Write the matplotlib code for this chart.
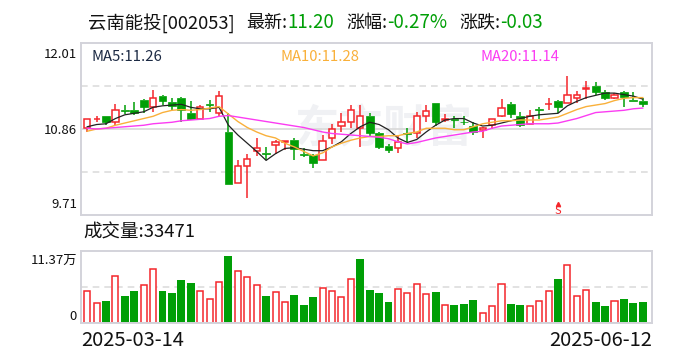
import matplotlib
matplotlib.use("Agg")
import matplotlib.pyplot as plt
from matplotlib.patches import Rectangle

plt.rcParams['font.family'] = ['Noto Sans CJK SC', 'DejaVu Sans']

# candles
opens = [10.88, 10.99, 11.03, 10.96, 11.12, 11.11, 11.25, 11.15, 11.30, 11.22,
         11.28, 11.07, 11.00, 11.19, 11.07, 10.82, 10.14, 10.37, 10.57, 10.54,
         10.64, 10.69, 10.71, 10.52, 10.51, 10.44, 10.74, 10.90, 10.96, 10.88,
         11.03, 10.80, 10.63, 10.61, 10.81, 10.80, 11.04, 11.21, 10.98, 10.99,
         10.96, 10.90, 10.85, 10.91, 11.04, 11.20, 11.04, 10.93, 11.13, 11.19,
         11.24, 11.21, 11.27, 11.40, 11.43, 11.36, 11.28, 11.35, 11.25, 11.24]
closes = [10.99, 11.00, 10.96, 11.11, 11.10, 11.07, 11.16, 11.28, 11.24, 11.17,
          11.12, 10.99, 11.15, 11.18, 11.30, 10.13, 10.37, 10.46, 10.61, 10.53,
          10.68, 10.70, 10.59, 10.51, 10.41, 10.70, 10.86, 10.95, 11.12, 11.04,
          10.81, 10.62, 10.58, 10.68, 10.79, 11.03, 11.10, 10.96, 11.00, 10.98,
          10.95, 10.82, 10.87, 10.99, 11.14, 11.06, 10.91, 11.04, 11.11, 11.20,
          11.16, 11.32, 11.32, 11.41, 11.36, 11.28, 11.32, 11.29, 11.24, 11.20]
highs = [10.99, 11.03, 11.03, 11.20, 11.18, 11.22, 11.26, 11.38, 11.31, 11.28,
         11.29, 11.23, 11.18, 11.25, 11.37, 11.07, 10.45, 10.53, 10.74, 10.62,
         10.71, 10.70, 10.74, 10.60, 10.52, 10.78, 10.93, 11.08, 11.18, 11.18,
         11.07, 10.82, 10.66, 10.76, 10.88, 11.09, 11.18, 11.21, 11.06, 11.03,
         11.03, 10.96, 10.89, 10.99, 11.26, 11.22, 11.09, 11.11, 11.16, 11.28,
         11.25, 11.57, 11.37, 11.50, 11.49, 11.38, 11.34, 11.37, 11.35, 11.27]
lows = [10.82, 10.95, 10.91, 10.91, 11.06, 11.05, 11.07, 11.09, 11.18, 11.11,
        10.96, 10.98, 11.00, 11.09, 11.03, 10.13, 10.14, 9.94, 10.50, 10.45,
        10.53, 10.58, 10.45, 10.49, 10.34, 10.44, 10.66, 10.82, 10.87, 10.62,
        10.76, 10.59, 10.54, 10.54, 10.68, 10.74, 10.96, 10.90, 10.95, 10.88,
        10.92, 10.78, 10.74, 10.86, 11.02, 11.01, 10.89, 10.93, 11.00, 11.11,
        11.07, 11.21, 11.21, 11.26, 11.31, 11.25, 11.26, 11.15, 11.24, 11.15]

ma5 = [10.89, 10.92, 10.93, 11.00, 11.05, 11.07, 11.09, 11.15, 11.17, 11.18,
       11.19, 11.15, 11.13, 11.13, 11.15, 10.91, 10.78, 10.67, 10.56, 10.44,
       10.53, 10.60, 10.61, 10.59, 10.57, 10.57, 10.62, 10.69, 10.80, 10.89,
       10.95, 10.92, 10.85, 10.74, 10.68, 10.72, 10.82, 10.91, 10.98, 11.00,
       11.00, 10.94, 10.90, 10.91, 10.94, 10.97, 11.00, 11.03, 11.05, 11.06,
       11.07, 11.17, 11.23, 11.28, 11.31, 11.34, 11.34, 11.32, 11.30, 11.26]
ma10 = [10.83, 10.86, 10.87, 10.91, 10.94, 10.97, 11.00, 11.03, 11.08, 11.11,
        11.12, 11.11, 11.12, 11.14, 11.16, 11.06, 10.96, 10.88, 10.82, 10.77,
        10.74, 10.67, 10.62, 10.56, 10.50, 10.54, 10.62, 10.67, 10.71, 10.74,
        10.76, 10.76, 10.77, 10.77, 10.80, 10.82, 10.87, 10.87, 10.87, 10.85,
        10.85, 10.89, 10.93, 10.95, 10.97, 10.97, 10.98, 10.98, 10.98, 11.00,
        11.02, 11.07, 11.12, 11.16, 11.18, 11.20, 11.24, 11.27, 11.28, 11.28]
ma20 = [10.87, 10.86, 10.87, 10.88, 10.89, 10.90, 10.91, 10.93, 10.94, 10.95,
        10.97, 10.98, 10.99, 11.00, 11.03, 11.04, 11.02, 11.00, 10.98, 10.96,
        10.94, 10.92, 10.90, 10.88, 10.85, 10.82, 10.80, 10.79, 10.78, 10.77,
        10.76, 10.75, 10.73, 10.69, 10.66, 10.68, 10.71, 10.74, 10.76, 10.78,
        10.80, 10.82, 10.83, 10.87, 10.90, 10.91, 10.92, 10.93, 10.93, 10.93,
        10.94, 10.97, 11.00, 11.04, 11.08, 11.09, 11.10, 11.11, 11.13, 11.14]

# volume in 万手, 1 = red outline, 0 = solid green
volumes = [5.11, 3.21, 3.42, 7.37, 4.26, 5.05, 5.95, 8.50, 5.05, 4.74,
           6.84, 6.32, 5.00, 3.74, 6.42, 10.63, 8.21, 7.26, 5.95, 4.26,
           4.84, 3.26, 4.42, 2.84, 4.16, 5.47, 5.00, 4.05, 6.89, 10.11,
           5.21, 4.74, 3.32, 5.37, 4.74, 6.11, 4.53, 4.89, 2.79, 2.84,
           3.00, 3.63, 1.53, 2.63, 6.11, 3.00, 2.84, 2.63, 3.42, 5.00,
           6.95, 9.11, 4.21, 5.16, 3.32, 2.68, 3.42, 3.79, 3.16, 3.32]
vol_up = [1, 1, 0, 1, 0, 0, 1, 1, 0, 0, 0, 0, 1, 1, 1, 0, 1, 1, 1, 0,
          1, 1, 0, 0, 0, 1, 1, 1, 1, 0, 0, 0, 0, 1, 1, 1, 1, 0, 1, 0,
          0, 0, 1, 1, 1, 0, 0, 1, 1, 1, 0, 1, 1, 1, 0, 0, 1, 0, 0, 0]

price_ticks = [12.01, 10.86, 9.71]
vol_max = 11.37
dates = ["2025-03-14", "2025-06-12"]
signal_bar = 50

RED = "#f4262b"
GREEN = "#009f06"
BORDER = "#d3d3da"
W, H = 688, 360


def panel(x0, y0, x1, y1):
    ax = fig.add_axes([x0 / W, 1 - y1 / H, (x1 - x0) / W, (y1 - y0) / H])
    ax.set_xlim(-0.69, 59.93)
    ax.set_xticks([])
    ax.set_yticks([])
    for s in ax.spines.values():
        s.set_color(BORDER)
        s.set_linewidth(1.4)
    return ax


def label(x, y, s, color="#111111", size=13, ha="left"):
    fig.text(x / W, 1 - y / H, s, color=color, fontsize=size, ha=ha, va="center")


fig = plt.figure(figsize=(W / 100, H / 100), dpi=100)

# price panel
ax = panel(80.7, 43, 651.5, 215)
ax.set_ylim(price_ticks[2], price_ticks[0])
mid = price_ticks[1]
step = (price_ticks[0] - price_ticks[1]) / 2
ax.axhline(mid, color="#d8d8d8", lw=1.2, zorder=1)
ax.axhline(mid + step, xmax=0.993, color="#dddddd", lw=1.2, ls=(0, (4, 3)), zorder=1)
ax.axhline(mid - step, xmax=0.993, color="#dddddd", lw=1.2, ls=(0, (4, 3)), zorder=1)
ax.text(0.53, 0.5, "东方财富", transform=ax.transAxes, color="#f0f1f4", fontsize=32,
        fontweight="bold", ha="center", va="center", zorder=0)

for i in range(len(opens)):
    up = closes[i] >= opens[i]
    c = RED if up else GREEN
    lo, hi = min(opens[i], closes[i]), max(opens[i], closes[i])
    ax.plot([i, i], [lows[i], lo], color=c, lw=1.1, zorder=2, solid_capstyle="butt")
    ax.plot([i, i], [hi, highs[i]], color=c, lw=1.1, zorder=2, solid_capstyle="butt")
    if up:
        ax.add_patch(Rectangle((i - 0.33, lo), 0.66, hi - lo, facecolor="white",
                               edgecolor=c, lw=1.1, zorder=3))
    else:
        ax.add_patch(Rectangle((i - 0.41, lo), 0.82, hi - lo, facecolor=c,
                               edgecolor=c, lw=0.5, zorder=3))

ax.plot(ma5, color="#222222", lw=0.9, zorder=4)
ax.plot(ma10, color="#f9b03a", lw=1.0, zorder=4)
ax.plot(ma20, color="#fb3cf2", lw=1.0, zorder=4)

ax.plot([signal_bar], [9.86], marker="^", ms=3, color=RED, zorder=4)
ax.text(signal_bar, 9.77, "S", color=RED, fontsize=8, ha="center", va="center", zorder=4)

# volume panel
vx = panel(80.7, 251, 651.5, 323)
vx.set_ylim(0, vol_max)
vx.axhline(vol_max / 2, xmax=0.993, color="#dddddd", lw=1.2, ls=(0, (4, 3)), zorder=1)
for i, v in enumerate(volumes):
    if vol_up[i]:
        vx.bar(i, v, width=0.64, facecolor="white", edgecolor=RED, lw=1.1, zorder=2)
    else:
        vx.bar(i, v, width=0.84, color=GREEN, zorder=2)

# header
label(88, 23, "云南能投[002053]", size=13.2)
label(246, 23, "最新:")
label(287, 23, "11.20", GREEN, 13.5)
label(346, 23, "涨幅:")
label(387, 23, "-0.27%", GREEN, 13.5)
label(459, 23, "涨跌:")
label(500, 23, "-0.03", GREEN, 13.5)

label(91, 57, "MA5:11.26", "#1c2a44", 10.7)
label(280, 57, "MA10:11.28", "#f9b03a", 10.7)
label(480, 57, "MA20:11.14", "#fb3cf2", 10.7)

label(77, 54, "12.01", size=9.5, ha="right")
label(77, 130, "10.86", size=9.5, ha="right")
label(77, 205, "9.71", size=9.5, ha="right")

label(83, 233, "成交量:33471", size=13.3)
label(77, 260, "11.37万", size=9.5, ha="right")
label(77, 316, "0", size=9.5, ha="right")

label(81, 340, dates[0], size=14.5)
label(652, 340, dates[1], size=14.5, ha="right")

fig.savefig("out.png", dpi=100)
